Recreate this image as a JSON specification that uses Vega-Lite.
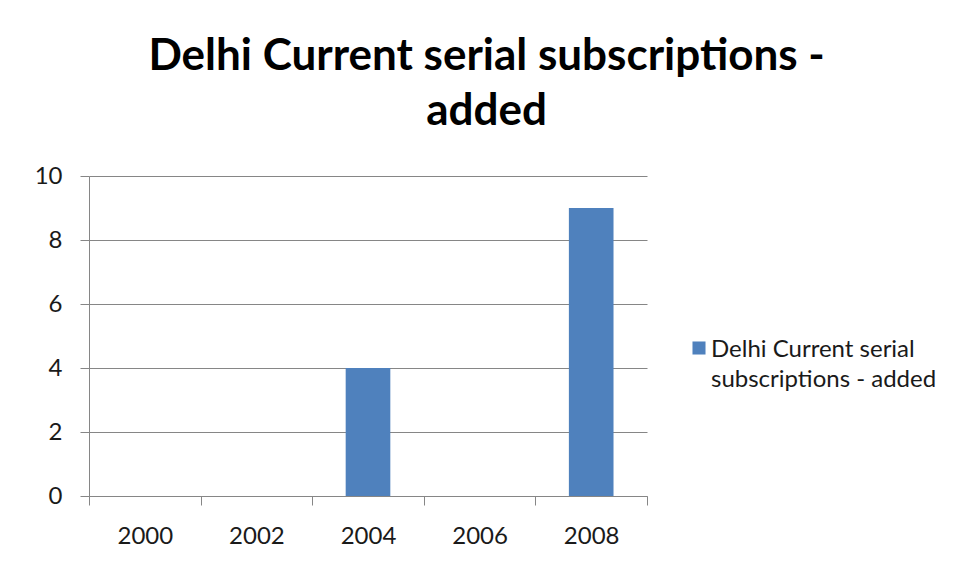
{
  "$schema": "https://vega.github.io/schema/vega-lite/v6.json",
  "width": 558,
  "height": 320,
  "padding": {"left": 34, "top": 35, "right": 10, "bottom": 10},
  "background": "white",
  "title": {
    "text": ["Delhi Current serial subscriptions -", "added"],
    "font": "Lato",
    "fontSize": 44,
    "fontWeight": "bold",
    "color": "black",
    "lineHeight": 55,
    "anchor": "middle",
    "frame": "bounds",
    "offset": 30,
    "dx": 1
  },
  "data": {
    "values": [
      {"year": "2000", "value": 0, "series": "Delhi Current serial subscriptions - added"},
      {"year": "2002", "value": 0, "series": "Delhi Current serial subscriptions - added"},
      {"year": "2004", "value": 4, "series": "Delhi Current serial subscriptions - added"},
      {"year": "2006", "value": 0, "series": "Delhi Current serial subscriptions - added"},
      {"year": "2008", "value": 9, "series": "Delhi Current serial subscriptions - added"}
    ]
  },
  "mark": {"type": "bar", "width": {"band": 0.4}},
  "encoding": {
    "x": {
      "field": "year",
      "type": "ordinal",
      "scale": {"paddingInner": 0, "paddingOuter": 0},
      "axis": {
        "title": null,
        "grid": false,
        "labelAngle": 0,
        "tickBand": "extent",
        "domainColor": "#868686",
        "tickColor": "#868686",
        "tickSize": 9,
        "labelFont": "Lato",
        "labelFontSize": 24,
        "labelColor": "#1a1a1a",
        "labelPadding": 19
      }
    },
    "y": {
      "field": "value",
      "type": "quantitative",
      "scale": {"domain": [0, 10]},
      "axis": {
        "title": null,
        "grid": true,
        "values": [0, 2, 4, 6, 8, 10],
        "domainColor": "#868686",
        "tickColor": "#868686",
        "gridColor": "#868686",
        "tickSize": 9,
        "labelFont": "Lato",
        "labelFontSize": 24,
        "labelColor": "#1a1a1a",
        "labelPadding": 18
      }
    },
    "color": {
      "field": "series",
      "type": "nominal",
      "scale": {"range": ["#4F81BD"]},
      "legend": {
        "title": null,
        "orient": "none",
        "legendX": 598,
        "legendY": 160,
        "symbolType": "square",
        "symbolSize": 170,
        "symbolStrokeWidth": 0,
        "labelFont": "Lato",
        "labelFontSize": 24,
        "labelColor": "#1a1a1a",
        "labelLimit": 400,
        "labelExpr": "['Delhi Current serial', 'subscriptions - added']",
        "labelBaseline": "middle",
        "labelOffset": 0,
        "encode": {
          "labels": {"update": {"lineHeight": {"value": 30}, "dy": {"value": 2}}}
        }
      }
    }
  },
  "config": {
    "view": {"stroke": null}
  }
}
